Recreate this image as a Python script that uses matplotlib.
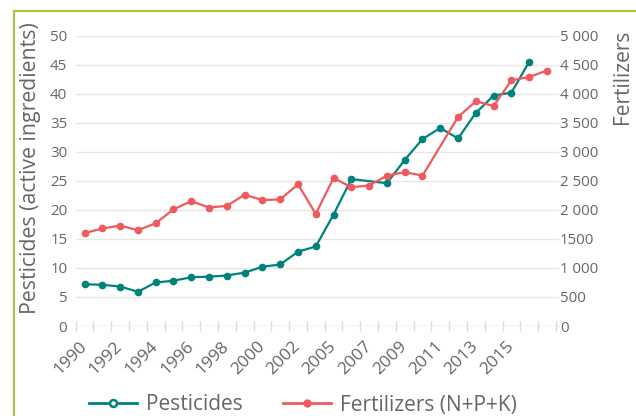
import matplotlib
matplotlib.use("Agg")
import matplotlib.pyplot as plt
from matplotlib.lines import Line2D
from matplotlib.patches import Rectangle
import numpy as np

# categories (one per year on the axis, every other one labelled)
years = ["1990", "1991", "1992", "1993", "1994", "1995", "1996", "1997", "1998",
         "1999", "2000", "2001", "2002", "2003", "2005", "2006", "2007", "2008",
         "2009", "2010", "2011", "2012", "2013", "2014", "2015", "2016", "2017"]

pesticides = [7.2, 7.1, 6.8, 5.9, 7.5, 7.8, 8.4, 8.5, 8.7, 9.2, 10.2, 10.6, 12.8,
              13.7, 19.2, 25.3, None, 24.6, 28.6, 32.2, 34.1, 32.3, 36.7, 39.7,
              40.2, 45.5, None]

fertilizers = [1600, 1680, 1730, 1650, 1770, 2010, 2150, 2040, 2070, 2260, 2170,
               2180, 2440, 1930, 2550, 2390, 2420, 2590, 2650, 2590, None, 3600,
               3870, 3790, 4230, 4290, 4400]

left_ticks = [0, 5, 10, 15, 20, 25, 30, 35, 40, 45, 50]
right_ticks = [0, 500, 1000, 1500, 2000, 2500, 3000, 3500, 4000, 4500, 5000]
right_labels = ["0", "500", "1 000", "1500", "2 000", "2 500", "3 000", "3 500",
                "4 000", "4 500", "5 000"]

TEAL = "#00827c"
RED = "#ee5a5e"
TEXT = "#666666"
GRID = "#e6e6e6"

plt.rcParams["font.family"] = ["Open Sans", "DejaVu Sans"]

fig = plt.figure(figsize=(6.36, 4.16), dpi=100)
ax = fig.add_axes([0.119, 0.2163, 0.755, 0.6979])
ax2 = ax.twinx()

# green frame around the card
fig.patches.append(Rectangle((13.5 / 636, -0.1), 1.2, (416 - 10.5) / 416 + 0.1,
                             transform=fig.transFigure, fill=False,
                             edgecolor="#a9c24a", linewidth=1.6))

x = np.arange(len(years))

px = [i for i, v in zip(x, pesticides) if v is not None]
py = [v for v in pesticides if v is not None]
fx = [i for i, v in zip(x, fertilizers) if v is not None]
fy = [v for v in fertilizers if v is not None]

ax.plot(px, py, color=TEAL, lw=1.6, marker="o", ms=4.5, zorder=3)
ax2.plot(fx, fy, color=RED, lw=1.6, marker="o", ms=4.5, zorder=3)

for a in (ax, ax2):
    for s in a.spines.values():
        s.set_visible(False)
    a.set_xlim(-0.5, len(years) - 0.5)

ax.set_ylim(0, 50)
ax2.set_ylim(0, 5000)
ax.set_yticks(left_ticks)
ax.set_yticklabels([str(t) for t in left_ticks])
ax2.set_yticks(right_ticks)
ax2.set_yticklabels(right_labels)

ax.grid(axis="y", color=GRID, lw=1)
ax.set_axisbelow(True)
ax.axhline(0, color="#dddddd", lw=1, zorder=1)

ax.tick_params(axis="y", length=0, pad=6, labelsize=10.8, labelcolor=TEXT)
ax2.tick_params(axis="y", length=2, width=1, color=GRID, pad=1,
                labelsize=10.8, labelcolor=TEXT)

# x axis: tick marks between categories, labels on every other category
ax.set_xticks(x[::2][:13])
ax.set_xticklabels([years[i] for i in x[::2][:13]], rotation=45, ha="right",
                   va="center", rotation_mode="anchor")
ax.set_xticks(np.arange(-0.5, len(years), 1), minor=True)
ax.tick_params(axis="x", which="major", length=0, pad=13, labelsize=12.5,
               labelcolor=TEXT)
ax.tick_params(axis="x", which="minor", length=7, direction="inout",
               color="#dddddd", width=1)

fig.text(31 / 636, 1 - 168 / 416, "Pesticides (active ingredients)", rotation=90,
         ha="center", va="center", fontsize=15.3, color=TEXT)
fig.text(622 / 636, 1 - 30 / 416, "Fertilizers", rotation=90,
         ha="center", va="top", fontsize=15, color=TEXT)

handles = [
    Line2D([], [], color=TEAL, lw=2, marker="o", ms=5, mfc="white", mew=1.8),
    Line2D([], [], color=RED, lw=2, marker="o", ms=5),
]
fig.legend(handles, ["Pesticides", "Fertilizers (N+P+K)"], loc="center",
           bbox_to_anchor=(303 / 636, 1 - 405 / 416), ncol=2, frameon=False,
           fontsize=15, labelcolor=TEXT, handlelength=2.3, handletextpad=0.45,
           columnspacing=1.9)

fig.savefig("out.png", dpi=100)
